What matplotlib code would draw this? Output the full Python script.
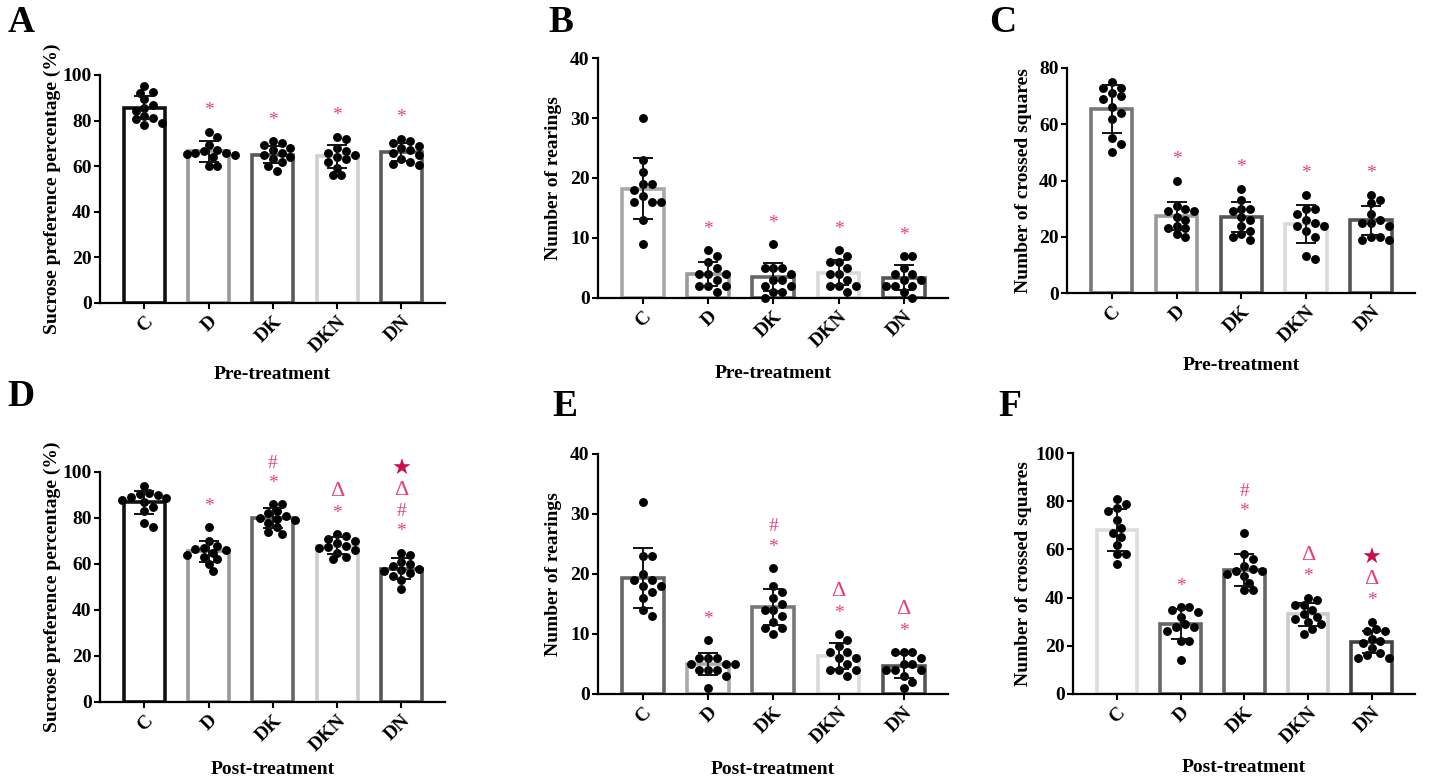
import numpy as np
import matplotlib
matplotlib.use("Agg")
import matplotlib.pyplot as plt

plt.rcParams['font.family'] = ['Liberation Serif', 'DejaVu Sans']
plt.rcParams['font.weight'] = 'bold'

groups = ["C", "D", "DK", "DKN", "DN"]

# ---- Panel A: sucrose preference, pre-treatment ----
A_mean = [85.7, 66.5, 65.0, 64.3, 66.2]
A_sd = [5.0, 4.5, 3.8, 5.2, 3.8]
A_pts = [
    [95, 92.5, 92.3, 89.5, 87, 85.5, 84, 82, 81, 80.5, 79, 78],
    [75, 73, 69.5, 67, 66.5, 66, 66, 65.5, 65, 64, 60, 60],
    [71, 70, 69.5, 68, 67, 66, 65, 64, 63, 62, 60, 58],
    [73, 72, 68, 66.5, 66, 65, 64, 63, 62, 59, 56, 56],
    [72, 71, 70, 69, 68, 67, 66, 65, 63, 62, 61, 60.5],
]
A_sig = [[], ["*"], ["*"], ["*"], ["*"]]

# ---- Panel B: rearings, pre-treatment ----
B_mean = [18.2, 4.0, 3.5, 4.2, 3.4]
B_sd = [5.1, 2.0, 2.3, 2.1, 2.1]
B_pts = [
    [30, 23, 21, 19, 19, 18, 17, 16, 16, 16, 13, 9],
    [8, 7, 6, 5, 4, 4, 4, 3, 2, 2, 2, 1],
    [9, 5, 5, 5, 4, 3, 3, 2, 2, 1, 1, 0],
    [8, 7, 6, 6, 5, 4, 4, 3, 2, 2, 2, 1],
    [7, 7, 5, 4, 4, 3, 3, 2, 2, 2, 1, 0],
]
B_sig = [[], ["*"], ["*"], ["*"], ["*"]]

# ---- Panel C: crossed squares, pre-treatment ----
C_mean = [65.5, 27.3, 27.0, 24.5, 25.8]
C_sd = [8.5, 5.0, 5.2, 6.8, 5.0]
C_pts = [
    [75, 73, 73, 71, 70, 69, 66, 64, 62, 55, 53, 50],
    [40, 31, 30, 29, 29, 27, 26, 24, 23, 23, 21, 20],
    [37, 33, 30, 30, 29, 27, 26, 24, 22, 21, 20, 19],
    [35, 30, 30, 28, 26, 25, 24, 24, 22, 20, 13, 12],
    [35, 33, 32, 28, 26, 25, 25, 24, 20, 20, 19, 19],
]
C_sig = [[], ["*"], ["*"], ["*"], ["*"]]

# ---- Panel D: sucrose preference, post-treatment ----
D_mean = [86.8, 65.5, 80.0, 68.0, 58.0]
D_sd = [5.0, 4.5, 4.2, 3.6, 4.5]
D_pts = [
    [94, 91, 90.5, 90, 89, 88.5, 88, 87, 85, 83, 78, 76],
    [76, 70, 68, 67, 66.5, 66, 65, 64, 63, 62, 60, 57],
    [86, 86, 83, 82, 81, 80, 79.5, 79, 78, 76, 74, 73],
    [73, 72, 71, 70, 69, 68, 67.5, 67, 66, 65, 63, 62],
    [65, 64, 61, 60, 59, 58, 57.5, 57, 56, 55, 53, 49],
]
D_sig = [[], ["*"], ["*", "#"], ["*", "\u0394"], ["*", "#", "\u0394", "\u2605"]]

# ---- Panel E: rearings, post-treatment ----
E_mean = [19.3, 5.0, 14.5, 6.3, 4.7]
E_sd = [5.0, 1.9, 3.0, 2.2, 2.0]
E_pts = [
    [32, 23, 23, 20, 19, 19, 18, 18, 17, 16, 14, 13],
    [9, 6, 6, 6, 5, 5, 5, 4, 4, 4, 3, 1],
    [21, 18, 17, 16, 15, 14, 14, 13, 12, 11, 11, 10],
    [10, 9, 8, 7, 7, 6, 6, 5, 4, 4, 4, 3],
    [7, 7, 7, 6, 5, 5, 4, 4, 4, 3, 2, 1],
]
E_sig = [[], ["*"], ["*", "#"], ["*", "\u0394"], ["*", "\u0394"]]

# ---- Panel F: crossed squares, post-treatment ----
F_mean = [68.0, 29.0, 51.5, 33.0, 21.5]
F_sd = [8.8, 6.2, 6.5, 4.8, 4.5]
F_pts = [
    [81, 79, 77, 76, 72, 69, 67, 65, 62, 58, 58, 54],
    [36, 36, 35, 34, 32, 29, 28, 28, 26, 22, 22, 14],
    [67, 58, 56, 53, 52, 51, 51, 50, 49, 46, 43, 43],
    [40, 39, 37, 37, 35, 33, 32, 31, 30, 29, 27, 25],
    [30, 27, 26, 26, 23, 22, 21, 19, 17, 16, 15, 15],
]
F_sig = [[], ["*"], ["*", "#"], ["*", "\u0394"], ["*", "\u0394", "\u2605"]]

panels = [
    dict(letter="A", mean=A_mean, sd=A_sd, pts=A_pts, sig=A_sig, ymax=100, step=20,
         ylabel="Sucrose preference percentage (%)", xlabel="Pre-treatment",
         rect=[100, 75, 445, 303], edges=["#111111", "#9a9a9a", "#5a5a5a", "#d0d0d0", "#5a5a5a"],
         lpos=(21, 22), yl=48, xl=72),
    dict(letter="B", mean=B_mean, sd=B_sd, pts=B_pts, sig=B_sig, ymax=40, step=10,
         ylabel="Number of rearings", xlabel="Pre-treatment",
         rect=[598, 58, 948, 298], edges=["#a8a8a8", "#9a9a9a", "#666666", "#dadada", "#555555"],
         lpos=(561, 22), yl=44, xl=75),
    dict(letter="C", mean=C_mean, sd=C_sd, pts=C_pts, sig=C_sig, ymax=80, step=20,
         ylabel="Number of crossed squares", xlabel="Pre-treatment",
         rect=[1067, 68, 1415, 293], edges=["#777777", "#9a9a9a", "#555555", "#dadada", "#555555"],
         lpos=(1003, 22), yl=44, xl=72),
    dict(letter="D", mean=D_mean, sd=D_sd, pts=D_pts, sig=D_sig, ymax=100, step=20,
         ylabel="Sucrose preference percentage (%)", xlabel="Post-treatment",
         rect=[100, 472, 445, 702], edges=["#111111", "#9a9a9a", "#666666", "#cccccc", "#555555"],
         lpos=(21, 396), yl=48, xl=68),
    dict(letter="E", mean=E_mean, sd=E_sd, pts=E_pts, sig=E_sig, ymax=40, step=10,
         ylabel="Number of rearings", xlabel="Post-treatment",
         rect=[598, 454, 948, 694], edges=["#666666", "#aaaaaa", "#777777", "#dadada", "#555555"],
         lpos=(565, 407), yl=44, xl=76),
    dict(letter="F", mean=F_mean, sd=F_sd, pts=F_pts, sig=F_sig, ymax=100, step=20,
         ylabel="Number of crossed squares", xlabel="Post-treatment",
         rect=[1073, 453, 1415, 694], edges=["#dddddd", "#666666", "#666666", "#cccccc", "#444444"],
         lpos=(1010, 406), yl=50, xl=74),
]

W, H, DPI = 1430, 783, 100
fig = plt.figure(figsize=(W / DPI, H / DPI), dpi=DPI)

XL = (-0.69, 4.68)
PINK = "#e5407c"
STAR = "#c8104f"
MSIZE_PX = 8.8


def swarm(values, ypx_per_unit, xpx_per_unit, d=MSIZE_PX):
    order = np.argsort(values)[::-1]
    placed = []
    offs = np.zeros(len(values))
    cands = [0.0]
    for k in range(1, 14):
        cands += [k * d * 0.5, -k * d * 0.5]
    for i in order:
        y = values[i] * ypx_per_unit
        for c in cands:
            ok = all((c - px) ** 2 + (y - py) ** 2 >= (d * 0.85) ** 2 for px, py in placed)
            if ok:
                placed.append((c, y))
                offs[i] = c / xpx_per_unit
                break
    return offs


for p in panels:
    x0, y0, x1, y1 = p["rect"]
    ax = fig.add_axes([x0 / W, 1 - y1 / H, (x1 - x0) / W, (y1 - y0) / H])
    ax.set_xlim(*XL)
    ax.set_ylim(0, p["ymax"])
    xpx = (x1 - x0) / (XL[1] - XL[0])
    ypx = (y1 - y0) / p["ymax"]
    xs = np.arange(len(groups))
    for i in xs:
        ax.bar(i, p["mean"][i], width=0.64, facecolor="white",
               edgecolor=p["edges"][i], linewidth=2.6, zorder=2)
    for i in xs:
        vals = np.array(p["pts"][i], dtype=float)
        offs = swarm(vals, ypx, xpx)
        ax.plot(i + offs, vals, "o", color="black", markersize=6.4,
                markeredgewidth=0, zorder=3, clip_on=False)
        ax.errorbar(i, p["mean"][i], yerr=p["sd"][i], fmt="none", ecolor="#111111",
                    elinewidth=1.4, capsize=7, capthick=1.4, zorder=4)
        top = max(vals.max(), p["mean"][i] + p["sd"][i])
        for k, s in enumerate(p["sig"][i]):
            if s == "\u2605":
                col, fs = STAR, 16
            elif s == "\u0394":
                col, fs = PINK, 16
            else:
                col, fs = PINK, 14
            ax.annotate(s, xy=(i, top), xytext=(0, 9 + 14.5 * k),
                        textcoords="offset points", ha="center", va="bottom",
                        color=col, fontsize=fs, fontweight="normal",
                        family=["Liberation Serif", "DejaVu Sans"], zorder=5,
                        annotation_clip=False)
    for sp in ["top", "right"]:
        ax.spines[sp].set_visible(False)
    for sp in ["left", "bottom"]:
        ax.spines[sp].set_linewidth(1.6)
    ax.set_yticks(np.arange(0, p["ymax"] + 1, p["step"]))
    ax.set_xticks(xs)
    ax.set_xticklabels(groups, rotation=45, ha="right", rotation_mode="anchor")
    ax.tick_params(axis="both", width=1.5, length=4, pad=2, labelsize=14)
    ax.tick_params(axis="x", pad=3)
    for lab in ax.get_xticklabels() + ax.get_yticklabels():
        lab.set_fontweight("bold")
    ax.set_ylabel(p["ylabel"], fontsize=14, fontweight="bold")
    ax.yaxis.label.set_va("center")
    ax.yaxis.set_label_coords(-p["yl"] / (x1 - x0), 0.5)
    ax.set_xlabel(p["xlabel"], fontsize=14, fontweight="bold")
    ax.xaxis.label.set_va("center")
    ax.xaxis.set_label_coords(0.5, -p["xl"] / (y1 - y0))
    fig.text(p["lpos"][0] / W, 1 - p["lpos"][1] / H, p["letter"], fontsize=27,
             fontweight="bold", ha="center", va="center")

fig.savefig("out.png", dpi=DPI)
